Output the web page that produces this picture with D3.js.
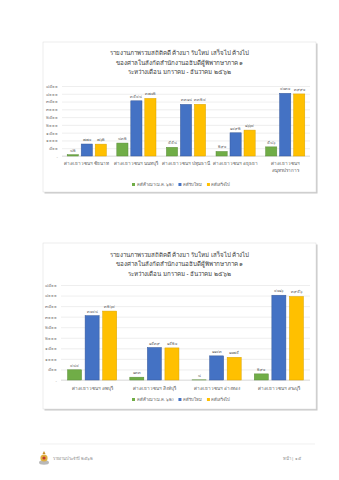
<!DOCTYPE html>
<html>
<head>
<meta charset="utf-8">
<script src="https://cdn.jsdelivr.net/npm/d3@7"></script>
<style>
  html, body { margin: 0; padding: 0; background: #ffffff; }
  svg { display: block; font-family: "Noto Sans", "DejaVu Sans", sans-serif; }
</style>
</head>
<body>
<svg id="page" width="339" height="480"></svg>
<script>
// ---- data ----
const titleLines = [
  "รายงานภาพรวมสถิติคดี ค้างมา รับใหม่ เสร็จไป ค้างไป",
  "ของศาลในสังกัดสำนักงานอธิบดีผู้พิพากษาภาค ๑",
  "ระหว่างเดือน มกราคม - ธันวาคม ๒๕๖๒"
];
const seriesNames = ["คดีค้างมา (ม.ค. ๖๒)", "คดีรับใหม่", "คดีเสร็จไป"];
const seriesColors = ["#70ad47", "#4472c4", "#ffc000"];
const seriesStroke = ["#5a8c38", "#36599a", "#d9a300"];

const categories1 = ["ศาลเยาวชนฯ ชัยนาท", "ศาลเยาวชนฯ นนทบุรี", "ศาลเยาวชนฯ ปทุมธานี", "ศาลเยาวชนฯ อยุธยา", "ศาลเยาวชนฯ|สมุทรปราการ"];
const pending1  = [82, 832, 558, 290, 586];
const received1 = [770, 3548, 3318, 1492, 4030];
const finished1 = [762, 3702, 3324, 1664, 3990];

const categories2 = ["ศาลเยาวชนฯ ลพบุรี", "ศาลเยาวชนฯ สิงห์บุรี", "ศาลเยาวชนฯ อ่างทอง", "ศาลเยาวชนฯ สระบุรี"];
const pending2  = [484, 133, 8, 290];
const received2 = [3048, 1539, 1143, 4016];
const finished2 = [3264, 1520, 1075, 3956];

const tickValues = [0, 500, 1000, 1500, 2000, 2500, 3000, 3500, 4000, 4500];
const tickLabels = ["-", "๕๐๐", "๑๐๐๐", "๑๕๐๐", "๒๐๐๐", "๒๕๐๐", "๓๐๐๐", "๓๕๐๐", "๔๐๐๐", "๔๕๐๐"];

const footerLeft = "รายงานประจำปี ๒๕๖๒";
const footerRight = "หน้า | ๑๕";

// ---- helpers ----
const thaiDigits = "๐๑๒๓๔๕๖๗๘๙";
const toThai = n => String(n).replace(/\d/g, d => thaiDigits[+d]);

const svg = d3.select("#page");

function drawChart(cfg) {
  const g = svg.append("g");

  // frame with a soft shadow on the right and bottom
  g.append("rect")
    .attr("x", cfg.frame.x + 1.5).attr("y", cfg.frame.y + 1.5)
    .attr("width", cfg.frame.w).attr("height", cfg.frame.h)
    .attr("fill", "#c8c8c8");
  g.append("rect")
    .attr("x", cfg.frame.x).attr("y", cfg.frame.y)
    .attr("width", cfg.frame.w).attr("height", cfg.frame.h)
    .attr("fill", "#ffffff").attr("stroke", "#e0e0e0").attr("stroke-width", 0.6);

  // title
  g.selectAll("text.title").data(titleLines).join("text")
    .attr("class", "title")
    .attr("x", cfg.frame.x + cfg.frame.w / 2)
    .attr("y", (d, i) => cfg.titleY + i * cfg.titleStep)
    .attr("text-anchor", "middle")
    .attr("dominant-baseline", "middle")
    .attr("font-size", cfg.titleSize)
    .attr("fill", "#404040")
    .text(d => d);

  const y = d3.scaleLinear().domain([0, 4500]).range([cfg.plot.bottom, cfg.plot.top]);
  const x0 = d3.scaleBand().domain(cfg.categories).range([cfg.plot.left, cfg.plot.right]).paddingInner(0).paddingOuter(0);
  const x1 = d3.scaleBand().domain([0, 1, 2])
    .range([x0.bandwidth() * cfg.groupPad, x0.bandwidth() * (1 - cfg.groupPad)])
    .paddingInner(cfg.barGap);

  // gridlines + y axis labels
  const yAxis = d3.axisLeft(y).tickValues(tickValues)
    .tickFormat((d, i) => tickLabels[i])
    .tickSize(-(cfg.plot.right - cfg.plot.left)).tickPadding(4);
  const ag = g.append("g").attr("transform", `translate(${cfg.plot.left},0)`).call(yAxis);
  ag.select(".domain").remove();
  ag.selectAll(".tick line").attr("stroke", "#e3e3e3").attr("stroke-width", 0.6);
  ag.selectAll(".tick text").attr("fill", "#7f7f7f").attr("font-size", cfg.tickSize).attr("font-family", null);
  // baseline
  g.append("line")
    .attr("x1", cfg.plot.left).attr("x2", cfg.plot.right)
    .attr("y1", y(0)).attr("y2", y(0))
    .attr("stroke", "#d0d0d0").attr("stroke-width", 0.6);

  const series = [cfg.pending, cfg.received, cfg.finished];
  const rows = [];
  cfg.categories.forEach((c, ci) => series.forEach((s, si) => rows.push({ c, si, v: s[ci] })));

  const bars = g.append("g");
  bars.selectAll("rect").data(rows).join("rect")
    .attr("x", d => x0(d.c) + x1(d.si))
    .attr("width", x1.bandwidth())
    .attr("y", d => y(d.v))
    .attr("height", d => y(0) - y(d.v))
    .attr("fill", d => seriesColors[d.si])
    .attr("stroke", d => seriesStroke[d.si])
    .attr("stroke-width", 0.5);

  bars.selectAll("text").data(rows).join("text")
    .attr("x", d => x0(d.c) + x1(d.si) + x1.bandwidth() / 2)
    .attr("y", d => y(d.v) - 3)
    .attr("text-anchor", "middle")
    .attr("font-size", cfg.valueSize)
    .attr("fill", "#595959")
    .text(d => toThai(d.v));

  // category labels
  const cl = g.append("g");
  cfg.categories.forEach(c => {
    const parts = c.split("|");
    parts.forEach((p, i) => {
      cl.append("text")
        .attr("x", x0(c) + x0.bandwidth() / 2)
        .attr("y", cfg.catY + i * cfg.catStep)
        .attr("text-anchor", "middle")
        .attr("dominant-baseline", "middle")
        .attr("font-size", cfg.catSize)
        .attr("fill", "#595959")
        .text(p);
    });
  });

  // legend
  const lg = g.append("g");
  let lx = cfg.legendX;
  seriesNames.forEach((name, i) => {
    lg.append("rect")
      .attr("x", lx).attr("y", cfg.legendY - 1.5)
      .attr("width", 3).attr("height", 3)
      .attr("fill", seriesColors[i]);
    const t = lg.append("text")
      .attr("x", lx + 4.5).attr("y", cfg.legendY)
      .attr("dominant-baseline", "middle")
      .attr("font-size", cfg.legendSize)
      .attr("fill", "#595959")
      .text(name);
    lx += 4.5 + t.node().getComputedTextLength() + 5;
  });
}

drawChart({
  frame: { x: 43, y: 42, w: 273, h: 150 },
  titleY: 53.3, titleStep: 9.6, titleSize: 6.2,
  plot: { left: 62, right: 310, top: 86, bottom: 156 },
  categories: categories1, pending: pending1, received: received1, finished: finished1,
  groupPad: 0.105, barGap: 0.2,
  tickSize: 4.3, valueSize: 3.8, catSize: 4.6, catY: 163.5, catStep: 7,
  legendX: 132, legendY: 184.5, legendSize: 4.2
});

drawChart({
  frame: { x: 43, y: 243, w: 273, h: 166 },
  titleY: 255, titleStep: 9.6, titleSize: 6.2,
  plot: { left: 61, right: 310, top: 285, bottom: 380 },
  categories: categories2, pending: pending2, received: received2, finished: finished2,
  groupPad: 0.105, barGap: 0.2,
  tickSize: 4.3, valueSize: 3.8, catSize: 4.6, catY: 388.5, catStep: 7,
  legendX: 132, legendY: 399.5, legendSize: 4.2
});

// ---- footer ----
svg.append("line")
  .attr("x1", 40).attr("x2", 315).attr("y1", 444).attr("y2", 444)
  .attr("stroke", "#e6e6e6").attr("stroke-width", 0.6);

// small emblem
const emb = svg.append("g").attr("transform", "translate(44,459)");
emb.append("ellipse").attr("cx", 0).attr("cy", 3.5).attr("rx", 5).attr("ry", 2.2).attr("fill", "#b9b9b9");
emb.append("circle").attr("cx", 0).attr("cy", -1).attr("r", 3.6).attr("fill", "#e0b040");
emb.append("path").attr("d", "M-1.5,-5 L0,-8 L1.5,-5 Z").attr("fill", "#c8902a");
emb.append("circle").attr("cx", 0).attr("cy", -1).attr("r", 1.6).attr("fill", "#c0392b");

svg.append("text")
  .attr("x", 53).attr("y", 458.5)
  .attr("dominant-baseline", "middle")
  .attr("font-size", 4.2).attr("fill", "#8c8c8c")
  .text(footerLeft);
svg.append("text")
  .attr("x", 301).attr("y", 458.5)
  .attr("text-anchor", "end")
  .attr("dominant-baseline", "middle")
  .attr("font-size", 4.2).attr("fill", "#8c8c8c")
  .text(footerRight);
</script>
</body>
</html>
